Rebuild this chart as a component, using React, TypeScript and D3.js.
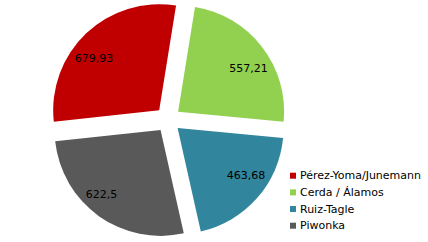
import React from "react";
import * as d3 from "d3";

const categories = ["Pérez-Yoma/Junemann", "Cerda / Álamos", "Ruiz-Tagle", "Piwonka"];
const values = [679.93, 557.21, 463.68, 622.5];
const colors = ["#c00000", "#92d050", "#31859c", "#595959"];

const W = 428;
const H = 242;
const cx = 168;
const cy = 119.5;
const R = 106;
const explode = 12.8;
const labelOuter = 102;
const fontSize = 11;
const startDeg = -96.2;

// approximate DejaVu Sans advance widths (em) for label text
const charW = (ch: string) => (ch === "," || ch === ".") ? 0.318 : 0.636;
const textWidth = (s: string) => s.split("").reduce((acc, ch) => acc + charW(ch), 0) * fontSize;

export default function App() {
  const start = (startDeg * Math.PI) / 180;
  const pie = d3
    .pie<number>()
    .sort(null)
    .value((d) => d)
    .startAngle(start)
    .endAngle(start + 2 * Math.PI);
  const arcs = pie(values);
  const arc = d3.arc<d3.PieArcDatum<number>>().innerRadius(0).outerRadius(R);
  const fmt = (v: number) => String(v).replace(".", ",");

  const legendY = d3.scalePoint<number>().domain(d3.range(categories.length)).range([175.7, 225.7]);

  return (
    <svg
      width={W}
      height={H}
      style={{ position: "absolute", left: 0, top: 0, fontFamily: "'DejaVu Sans', sans-serif" }}
    >
      <rect width={W} height={H} fill="#ffffff" />
      <g transform={`translate(${cx},${cy})`}>
        {arcs.map((a, i) => {
          const mid = (a.startAngle + a.endAngle) / 2;
          const sx = Math.sin(mid);
          const sy = -Math.cos(mid);
          const ox = sx * explode;
          const oy = sy * explode;
          const label = fmt(values[i]);
          const w = textWidth(label);
          const h = 9;
          const bx = Math.sign(sx) * w;
          const by = Math.sign(sy) * h;
          const dc = sx * bx + sy * by;
          const t = -dc + Math.sqrt(dc * dc - (bx * bx + by * by) + labelOuter * labelOuter);
          const px = ox + sx * t;
          const py = oy + sy * t;
          const anchor = sx >= 0 ? "start" : "end";
          const ty = sy < 0 ? py : py + 8;
          return (
            <g key={i}>
              <path d={arc(a) || ""} transform={`translate(${ox},${oy})`} fill={colors[i]} />
              <text x={px} y={ty} textAnchor={anchor} fontSize={fontSize} fill="#000">
                {label}
              </text>
            </g>
          );
        })}
      </g>
      <g>
        {categories.map((c, i) => (
          <g key={i} transform={`translate(290,${legendY(i)})`}>
            <rect x={0} y={-3} width={6} height={6} fill={colors[i]} />
            <text x={10} y={0} dominantBaseline="central" fontSize={fontSize} fill="#000">
              {c}
            </text>
          </g>
        ))}
      </g>
    </svg>
  );
}
